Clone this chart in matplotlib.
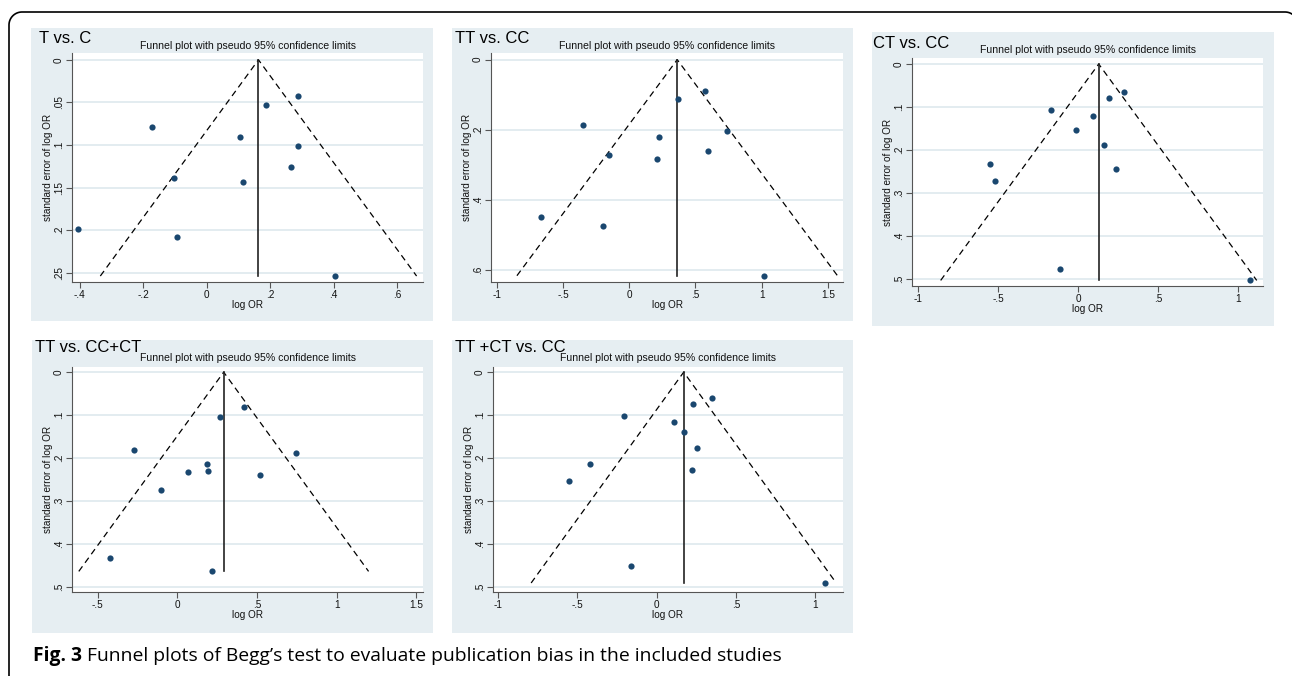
import matplotlib
matplotlib.use("Agg")
import numpy as np
import matplotlib.pyplot as plt
from matplotlib.patches import Rectangle
from matplotlib.lines import Line2D
from matplotlib import font_manager

# figure size in pixels
W, H = 1292, 676
DPI = 100

# ---- data ----
titles = ["T vs. C", "TT vs. CC", "CT vs. CC", "TT vs. CC+CT", "TT +CT vs. CC"]

tc_logor = [0.286, 0.186, -0.173, 0.105, 0.289, 0.265, -0.103, 0.114, -0.406, -0.094, 0.404]
tc_se = [0.042, 0.053, 0.079, 0.091, 0.101, 0.126, 0.139, 0.143, 0.199, 0.208, 0.254]
tc_pooled = 0.163

ttcc_logor = [0.570, 0.369, -0.349, 0.734, 0.221, -0.153, 0.595, 0.211, -0.666, -0.201, 1.018]
ttcc_se = [0.090, 0.113, 0.188, 0.203, 0.221, 0.271, 0.262, 0.283, 0.449, 0.474, 0.617]
ttcc_pooled = 0.362

ctcc_logor = [0.287, 0.189, -0.173, 0.092, -0.013, 0.158, -0.551, -0.520, 0.233, -0.116, 1.075]
ctcc_se = [0.065, 0.079, 0.108, 0.122, 0.153, 0.188, 0.233, 0.272, 0.245, 0.477, 0.504]
ctcc_pooled = 0.127

rec_logor = [0.420, 0.265, -0.271, 0.745, 0.184, 0.065, 0.194, 0.516, -0.106, -0.424, 0.217]
rec_se = [0.081, 0.104, 0.181, 0.188, 0.213, 0.233, 0.231, 0.240, 0.274, 0.433, 0.464]
rec_pooled = 0.290

dom_logor = [0.350, 0.229, -0.208, 0.111, 0.172, 0.254, -0.422, 0.225, -0.552, -0.162, 1.060]
dom_se = [0.060, 0.074, 0.102, 0.115, 0.140, 0.176, 0.215, 0.229, 0.254, 0.451, 0.491]
dom_pooled = 0.170

tc_xticks = [-0.4, -0.2, 0, 0.2, 0.4, 0.6]
tc_yticks = [0, 0.05, 0.1, 0.15, 0.2, 0.25]
ttcc_xticks = [-1, -0.5, 0, 0.5, 1, 1.5]
ttcc_yticks = [0, 0.2, 0.4, 0.6]
ctcc_xticks = [-1, -0.5, 0, 0.5, 1]
ctcc_yticks = [0, 0.1, 0.2, 0.3, 0.4, 0.5]
rec_xticks = [-0.5, 0, 0.5, 1, 1.5]
rec_yticks = [0, 0.1, 0.2, 0.3, 0.4, 0.5]
dom_xticks = [-1, -0.5, 0, 0.5, 1]
dom_yticks = [0, 0.1, 0.2, 0.3, 0.4, 0.5]

subtitle = "Funnel plot with pseudo 95% confidence limits"
caption_bold = "Fig. 3"
caption_text = " Funnel plots of Begg\u2019s test to evaluate publication bias in the included studies"

panels = [
    (tc_logor, tc_se, tc_pooled, tc_xticks, tc_yticks),
    (ttcc_logor, ttcc_se, ttcc_pooled, ttcc_xticks, ttcc_yticks),
    (ctcc_logor, ctcc_se, ctcc_pooled, ctcc_xticks, ctcc_yticks),
    (rec_logor, rec_se, rec_pooled, rec_xticks, rec_yticks),
    (dom_logor, dom_se, dom_pooled, dom_xticks, dom_yticks),
]

# ---- layout (pixels: left, top, right, bottom) ----
bg_boxes = [(31, 28, 433, 321), (452, 28, 853, 321), (872, 32, 1274, 326),
            (32, 340, 433, 633), (452, 340, 853, 633)]
plot_boxes = [(72, 53, 423, 282), (491, 53, 843, 282), (912, 58, 1263, 286),
              (72, 367, 423, 592), (493, 367, 843, 592)]
xlims = [(-0.424, 0.681), (-1.043, 1.613), (-1.04, 1.154), (-0.662, 1.541), (-1.033, 1.175)]
ylims = [(0.261, -0.008), (0.635, -0.019), (0.517, -0.014), (0.512, -0.012), (0.512, -0.012)]
title_pos = [(39, 43), (455, 43), (873, 48), (35, 352), (455, 352)]
subtitle_y = [46, 46, 50, 358, 358]

BG = "#e6eef2"
GRID = "#e1eaef"
AXC = "#555555"
DOT = "#1a476f"

names = {f.name for f in font_manager.fontManager.ttflist}
MAIN_FONT = "Liberation Sans" if "Liberation Sans" in names else "DejaVu Sans"
CAP_FONT = "Open Sans"
plt.rcParams["font.family"] = [MAIN_FONT, "DejaVu Sans"]


def stata_fmt(v):
    s = "%g" % v
    if s.startswith("0."):
        s = s[1:]
    elif s.startswith("-0."):
        s = "-" + s[2:]
    return s


def fig_rect(box):
    l, t, r, b = box
    return [l / W, 1 - b / H, (r - l) / W, (b - t) / H]


fig = plt.figure(figsize=(W / DPI, H / DPI), dpi=DPI)
fig.patch.set_facecolor("white")

# outer frame: left edge, top edge, rounded corners (pixel coords, y from top)
r = 13
a1 = np.linspace(np.pi, np.pi / 2, 20)
a2 = np.linspace(np.pi / 2, 0, 20)
fx = np.concatenate([[9], 9 + r + r * np.cos(a1), 1298 - r + r * np.cos(a2)])
fy = np.concatenate([[H + 5], 12 + r - r * np.sin(a1), 12 + r - r * np.sin(a2)])
fig.add_artist(Line2D(fx / W, 1 - fy / H, transform=fig.transFigure,
                      color="black", lw=1.2, zorder=-1))

for i, (logor, se, pooled, xt, yt) in enumerate(panels):
    l, t, rr, b = bg_boxes[i]
    fig.patches.append(Rectangle((l / W, 1 - b / H), (rr - l) / W, (b - t) / H,
                                 transform=fig.transFigure, facecolor=BG,
                                 edgecolor="none", zorder=-1))
    ax = fig.add_axes(fig_rect(plot_boxes[i]))
    ax.set_zorder(2)
    ax.set_facecolor("white")
    ax.set_xlim(*xlims[i])
    ax.set_ylim(*ylims[i])

    se_max = max(se)
    # pseudo 95% confidence limits
    ax.plot([pooled - 1.96 * se_max, pooled, pooled + 1.96 * se_max],
            [se_max, 0, se_max], color="black", lw=0.9, ls=(0, (5, 3.5)), zorder=3)
    ax.plot([pooled, pooled], [0, se_max], color="#222222", lw=1.2, zorder=3)
    ax.scatter(logor, se, s=20, color=DOT, zorder=4, clip_on=False, linewidths=0)

    ax.set_xticks(xt)
    ax.set_xticklabels([stata_fmt(v) for v in xt])
    ax.set_yticks(yt)
    ax.set_yticklabels([stata_fmt(v) for v in yt], rotation=90, va="center")
    ax.yaxis.grid(True, color=GRID, lw=1.3)
    ax.set_axisbelow(True)
    for s in ["top", "right"]:
        ax.spines[s].set_visible(False)
    for s in ["left", "bottom"]:
        ax.spines[s].set_color(AXC)
        ax.spines[s].set_linewidth(0.8)
    ax.tick_params(direction="out", length=4, width=0.8, color=AXC,
                   labelsize=7.2, labelcolor="#111111")
    ax.tick_params(axis="x", pad=1.5)
    ax.tick_params(axis="y", pad=2.0)
    ax.set_xlabel("log OR", fontsize=7.2, labelpad=0, color="#111111")
    ax.set_ylabel("standard error of log OR", fontsize=7.2, color="#111111")
    pl, pt, pr, pb = plot_boxes[i]
    ax.yaxis.set_label_coords(-19 / (pr - pl), 0.5)

    tx, ty = title_pos[i]
    fig.text(tx / W, 1 - ty / H, titles[i], fontsize=12, va="baseline", ha="left", zorder=3)
    fig.text((pl + pr) / 2 / W, 1 - subtitle_y[i] / H, subtitle, fontsize=7.6,
             ha="center", va="center", color="#111111", zorder=3)

# caption
cap = fig.text(33 / W, 1 - 656 / H, caption_bold, fontsize=13.9, fontweight="bold",
               family=[CAP_FONT, "DejaVu Sans"], va="center", ha="left")
fig.canvas.draw()
bb = cap.get_window_extent()
fig.text(bb.x1 / W, 1 - 656 / H, caption_text, fontsize=13.9,
         family=[CAP_FONT, "DejaVu Sans"], va="center", ha="left")

fig.savefig("out.png", dpi=DPI)
